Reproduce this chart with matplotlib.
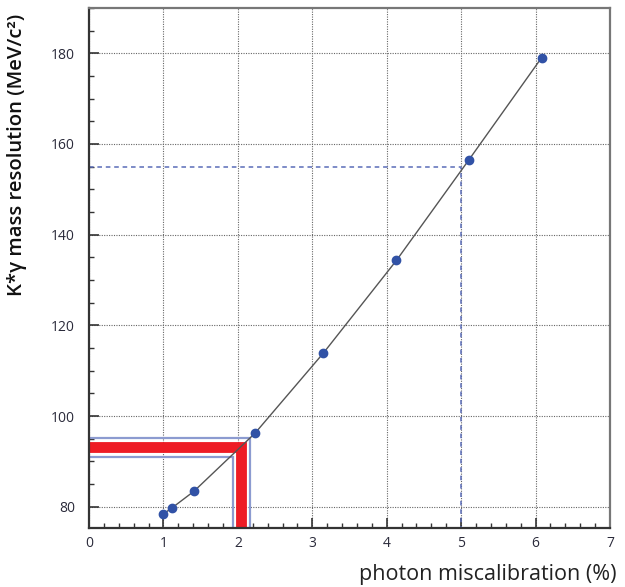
import matplotlib
matplotlib.use("Agg")
import matplotlib.pyplot as plt
from matplotlib.ticker import MultipleLocator

# photon miscalibration (%) vs K*gamma mass resolution (MeV/c^2)
miscal = [1.0, 1.12, 1.41, 2.23, 3.15, 4.13, 5.10, 6.08]
resolution = [78.4, 79.8, 83.4, 96.2, 113.9, 134.3, 156.4, 179.0]

# blue dashed read-off at 155 MeV/c^2
target_res = 155.0
target_cal = 5.0

# red L marker (with blue outline) around ~93 MeV/c^2
red_res = 93.1
red_cal = 2.04
outer_res, outer_cal = 95.2, 2.16
inner_res, inner_cal = 91.0, 1.93

xmin, xmax = 0, 7
ymin, ymax = 75.3, 190

plt.rcParams['font.family'] = ['Open Sans', 'DejaVu Sans']

fig = plt.figure(figsize=(6.25, 5.87), dpi=100)
ax = fig.add_axes([0.1424, 0.1005, 0.8336, 0.886])

ax.set_xlim(xmin, xmax)
ax.set_ylim(ymin, ymax)

ax.xaxis.set_major_locator(MultipleLocator(1))
ax.xaxis.set_minor_locator(MultipleLocator(0.2))
ax.yaxis.set_major_locator(MultipleLocator(20))
ax.yaxis.set_minor_locator(MultipleLocator(5))

ax.grid(True, which='major', color='#666666', linestyle=(0, (1, 1.2)), linewidth=0.8)
ax.set_axisbelow(True)

# blue outline of the L marker
ax.plot([xmin, outer_cal, outer_cal], [outer_res, outer_res, ymin - 5],
        color='#8c9bd0', lw=1.6, solid_joinstyle='miter')
ax.plot([xmin, inner_cal, inner_cal], [inner_res, inner_res, ymin - 5],
        color='#8c9bd0', lw=1.6, solid_joinstyle='miter')
# red L
ax.plot([xmin, red_cal, red_cal], [red_res, red_res, ymin - 5],
        color='#ee1c25', lw=7.8, solid_joinstyle='miter', solid_capstyle='butt')

# dashed read-off lines
ax.plot([xmin, target_cal, target_cal], [target_res, target_res, ymin - 5],
        color='#5a6cb8', lw=1.1, linestyle=(0, (3, 2.5)))

ax.plot(miscal, resolution, color='#555555', lw=1.0, zorder=3)
ax.plot(miscal, resolution, 'o', color='#3152a6', markersize=6, zorder=4)

for side in ['left', 'bottom']:
    ax.spines[side].set_color('#333333')
    ax.spines[side].set_linewidth(1.6)
for side in ['top', 'right']:
    ax.spines[side].set_color('#777777')
    ax.spines[side].set_linewidth(1.6)

ax.tick_params(which='major', direction='in', length=7, width=1.2, color='#333333',
               labelsize=10, labelcolor='#2a2a3a')
ax.tick_params(which='minor', direction='in', length=3.5, width=1.0, color='#333333')
ax.tick_params(axis='y', which='major', pad=10)
ax.tick_params(axis='x', which='major', pad=6)

ax.set_ylabel('K*γ mass resolution (MeV/c²)', fontsize=14.6, fontweight='semibold',
              color='#111111')
ax.yaxis.set_label_coords(-0.119, 0.717)
ax.set_xlabel('photon miscalibration (%)', fontsize=15.5, color='#222222',
              ha='right', va='center')
ax.xaxis.set_label_coords(1.013, -0.09)

fig.savefig('out.png', dpi=100)
